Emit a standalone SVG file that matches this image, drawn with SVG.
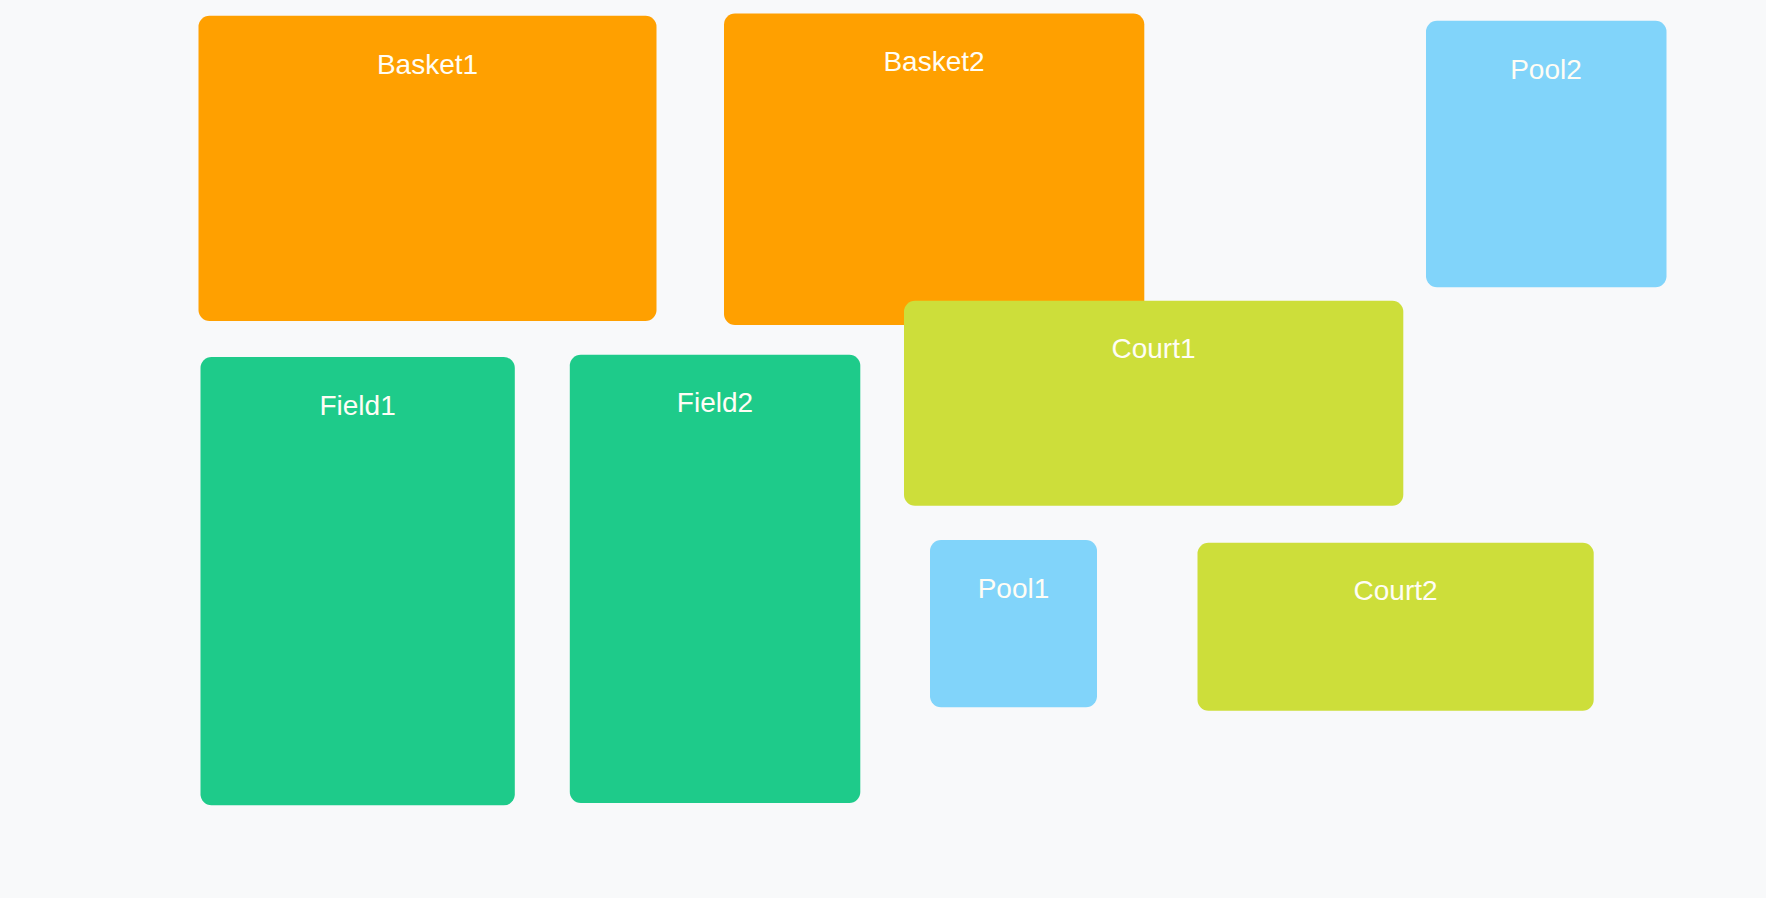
<svg xmlns="http://www.w3.org/2000/svg" width="1766" height="898" viewBox="0 0 1766 898">
<style>
.n rect{rx:11px;ry:11px}
.o{fill:#FFA000}
.g{fill:#1ECB8A}
.y{fill:#CDDE3A}
.b{fill:#81D4FA}
text{font-family:"Liberation Sans",Arial,sans-serif;font-size:28px;fill:#FFFDF5;text-anchor:middle}
</style>
<rect width="1766" height="898" fill="#F8F9FA"/>
<g id="Basket1" class="n"><rect class="o" x="198.5" y="15.7" width="458" height="305.3"/><text x="427.5" y="73.5">Basket1</text></g>
<g id="Basket2" class="n"><rect class="o" x="724" y="13.5" width="420.3" height="311.5"/><text x="934" y="71">Basket2</text></g>
<g id="Pool2" class="n"><rect class="b" x="1426" y="20.7" width="240.5" height="266.5"/><text x="1546" y="78.5">Pool2</text></g>
<g id="Court1" class="n"><rect class="y" x="904" y="300.8" width="499.3" height="204.9"/><text x="1153.5" y="358.3">Court1</text></g>
<g id="Field1" class="n"><rect class="g" x="200.5" y="357" width="314.3" height="448.3"/><text x="357.6" y="414.5">Field1</text></g>
<g id="Field2" class="n"><rect class="g" x="569.8" y="354.8" width="290.5" height="448.2"/><text x="715" y="412.3">Field2</text></g>
<g id="Pool1" class="n"><rect class="b" x="930" y="540" width="167" height="167.3"/><text x="1013.5" y="597.5">Pool1</text></g>
<g id="Court2" class="n"><rect class="y" x="1197.5" y="542.8" width="396.2" height="168"/><text x="1395.6" y="600.3">Court2</text></g>
<g id="connectors"/>
</svg>
